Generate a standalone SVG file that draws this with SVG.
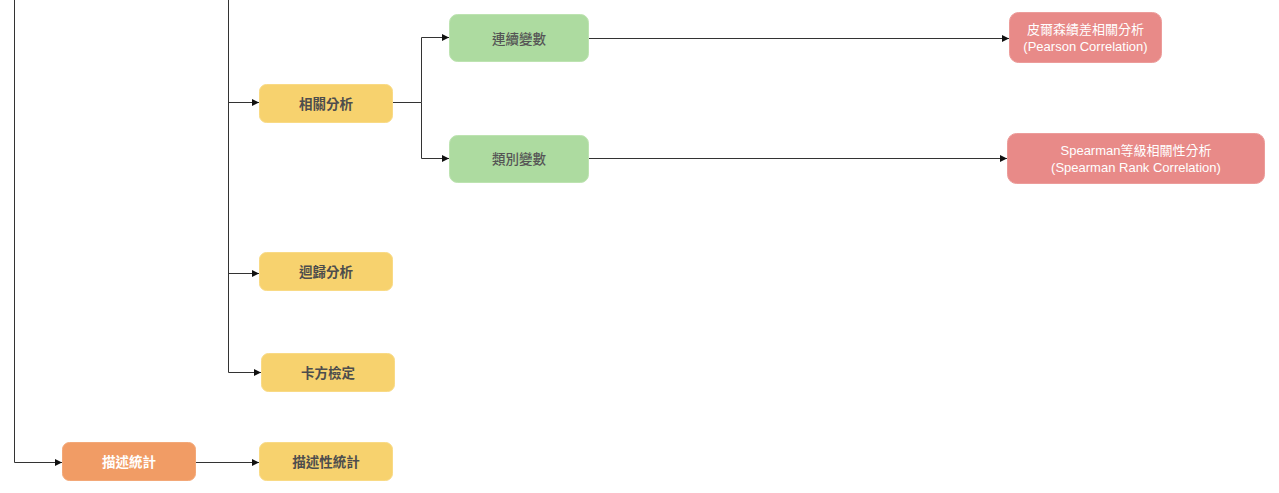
<svg xmlns="http://www.w3.org/2000/svg" width="1279" height="493" viewBox="0 0 1279 493">
<defs>
<marker id="arr" viewBox="0 0 10 10" refX="10" refY="5" markerWidth="7" markerHeight="7" markerUnits="userSpaceOnUse" orient="auto">
<path d="M0,0 L10,5 L0,10 z" fill="#111"/>
</marker>
<style>
.c{fill:none;stroke:#333;stroke-width:1;marker-end:url(#arr)}
.cn{fill:none;stroke:#333;stroke-width:1}
.y{fill:#F7D26E;stroke:#F9DA85;stroke-width:1}
.o{fill:#F19C65;stroke:#F3A878;stroke-width:1}
.g{fill:#ADDBA0;stroke:#BDE3B1;stroke-width:1}
.r{fill:#E88A88;stroke:#EC9C9A;stroke-width:1}
text{font-family:"Noto Sans CJK TC","Liberation Sans",sans-serif;font-size:13.5px;text-anchor:middle;dominant-baseline:central}
.dk{fill:#4D4D4D;font-weight:bold}
.gd{fill:#555;font-weight:500}
.wh{fill:#fff;font-weight:bold}
.wr{fill:#fff;font-size:13px;font-family:"Liberation Sans","Noto Sans CJK TC",sans-serif}
</style>
</defs>
<rect width="1279" height="493" fill="#fff"/>
<g id="connectors">
<path class="c" d="M14.5,0 V462.5 H62"/>
<path class="c" d="M195,462.5 H259"/>
<path class="c" d="M228.5,0 V102.5 H259"/>
<path class="c" d="M228.5,102 V273.5 H259"/>
<path class="c" d="M228.5,273 V372.5 H261"/>
<path class="cn" d="M392,102.5 H421.5"/>
<path class="c" d="M421.5,102.5 V37.5 H449"/>
<path class="c" d="M421.5,102.5 V158.5 H449"/>
<path class="c" d="M588,38.5 H1009"/>
<path class="c" d="M588,158.5 H1007"/>
</g>
<g id="n-desc">
<rect class="o" x="62.5" y="442.5" width="133" height="38" rx="7"/>
<text class="wh" x="129" y="461">描述統計</text>
</g>
<g id="n-descstat">
<rect class="y" x="259.5" y="442.5" width="133" height="38" rx="7"/>
<text class="dk" x="326" y="461">描述性統計</text>
</g>
<g id="n-corr">
<rect class="y" x="259.5" y="84.5" width="133" height="38" rx="7"/>
<text class="dk" x="326" y="102.5">相關分析</text>
</g>
<g id="n-reg">
<rect class="y" x="259.5" y="252.5" width="133" height="38" rx="7"/>
<text class="dk" x="326" y="270.5">迴歸分析</text>
</g>
<g id="n-chi">
<rect class="y" x="261.5" y="353.5" width="133" height="38" rx="7"/>
<text class="dk" x="328" y="371.5">卡方檢定</text>
</g>
<g id="n-cont">
<rect class="g" x="449.5" y="14.5" width="139" height="47" rx="8"/>
<text class="gd" x="519" y="37.5">連續變數</text>
</g>
<g id="n-cat">
<rect class="g" x="449.5" y="135.5" width="139" height="47" rx="8"/>
<text class="gd" x="519" y="158">類別變數</text>
</g>
<g id="n-pearson">
<rect class="r" x="1009.5" y="12.5" width="152" height="50" rx="9"/>
<text class="wr" x="1085.5" y="29">皮爾森績差相關分析</text>
<text class="wr" x="1085.5" y="46">(Pearson Correlation)</text>
</g>
<g id="n-spearman">
<rect class="r" x="1007.5" y="133.5" width="257" height="50" rx="9"/>
<text class="wr" x="1136" y="150">Spearman等級相關性分析</text>
<text class="wr" x="1136" y="167">(Spearman Rank Correlation)</text>
</g>
</svg>
